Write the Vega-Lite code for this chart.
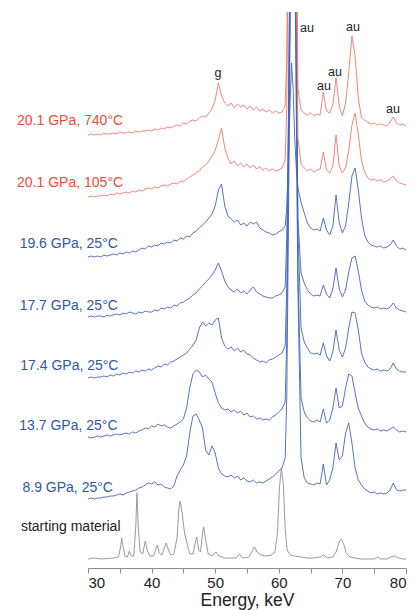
{
"$schema":"https://vega.github.io/schema/vega-lite/v6.json",
"width":318,"height":556,
"autosize":{"type":"none"},
"padding":{"left":88,"top":12,"right":10,"bottom":42},
"config":{"view":{"stroke":null},"font":"Liberation Sans"},
"datasets":{
"spec":[
{"x":30,"a":433,"b":371,"c":311,"d":251,"e":190,"f":131,"g":69},
{"x":30.5,"a":434,"b":372,"c":312,"d":252,"e":191,"f":130,"g":70},
{"x":31,"a":433,"b":371,"c":311,"d":251,"e":190,"f":131,"g":69},
{"x":31.5,"a":434,"b":372,"c":312,"d":252,"e":191,"f":132,"g":70},
{"x":32,"a":433,"b":372,"c":311,"d":252,"e":191,"f":131,"g":70},
{"x":32.5,"a":435,"b":373,"c":313,"d":251,"e":192,"f":132,"g":71},
{"x":33,"a":434,"b":372,"c":312,"d":253,"e":191,"f":133,"g":71},
{"x":33.5,"a":434,"b":374,"c":313,"d":252,"e":193,"f":132,"g":72},
{"x":34,"a":435,"b":373,"c":314,"d":253,"e":192,"f":133,"g":72},
{"x":34.5,"a":434,"b":375,"c":313,"d":254,"e":194,"f":134,"g":73},
{"x":35,"a":436,"b":374,"c":315,"d":253,"e":193,"f":133,"g":74},
{"x":35.5,"a":435,"b":375,"c":314,"d":255,"e":195,"f":134,"g":73},
{"x":36,"a":435,"b":376,"c":316,"d":254,"e":194,"f":135,"g":75},
{"x":36.5,"a":436,"b":375,"c":315,"d":256,"e":196,"f":134,"g":76},
{"x":37,"a":435,"b":377,"c":317,"d":255,"e":195,"f":136,"g":77},
{"x":37.5,"a":437,"b":376,"c":316,"d":254,"e":197,"f":135,"g":78},
{"x":38,"a":436,"b":378,"c":318,"d":256,"e":196,"f":137,"g":80},
{"x":38.5,"a":437,"b":377,"c":320,"d":255,"e":198,"f":138,"g":81},
{"x":39,"a":437,"b":379,"c":319,"d":257,"e":197,"f":140,"g":83},
{"x":39.5,"a":438,"b":380,"c":322,"d":256,"e":199,"f":139,"g":85},
{"x":40,"a":437,"b":379,"c":321,"d":256,"e":198,"f":142,"g":84},
{"x":40.5,"a":439,"b":381,"c":323,"d":258,"e":200,"f":141,"g":86},
{"x":41,"a":438,"b":380,"c":322,"d":257,"e":202,"f":144,"g":83},
{"x":41.5,"a":440,"b":382,"c":325,"d":260,"e":201,"f":142,"g":84},
{"x":42,"a":439,"b":383,"c":324,"d":259,"e":204,"f":143,"g":81},
{"x":42.5,"a":441,"b":382,"c":326,"d":261,"e":203,"f":141,"g":80},
{"x":43,"a":440,"b":384,"c":325,"d":260,"e":206,"f":140,"g":79},
{"x":43.5,"a":442,"b":385,"c":328,"d":263,"e":207,"f":142,"g":82},
{"x":44,"a":443,"b":384,"c":327,"d":262,"e":209,"f":144,"g":92},
{"x":44.5,"a":442,"b":387,"c":330,"d":265,"e":211,"f":146,"g":98},
{"x":45,"a":445,"b":386,"c":329,"d":266,"e":213,"f":149,"g":103},
{"x":45.5,"a":444,"b":389,"c":332,"d":268,"e":215,"f":160,"g":112},
{"x":46,"a":447,"b":391,"c":331,"d":270,"e":219,"f":180,"g":135},
{"x":46.5,"a":448,"b":393,"c":335,"d":273,"e":223,"f":194,"g":152},
{"x":47,"a":447,"b":395,"c":337,"d":275,"e":228,"f":198,"g":154},
{"x":47.5,"a":450,"b":397,"c":340,"d":279,"e":240,"f":196,"g":148},
{"x":48,"a":452,"b":401,"c":343,"d":282,"e":246,"f":191,"g":140},
{"x":48.5,"a":451,"b":403,"c":346,"d":286,"e":242,"f":193,"g":118},
{"x":49,"a":455,"b":407,"c":350,"d":289,"e":245,"f":189,"g":113},
{"x":49.5,"a":459,"b":412,"c":354,"d":293,"e":243,"f":186,"g":122},
{"x":50,"a":468,"b":418,"c":362,"d":298,"e":248,"f":175,"g":115},
{"x":50.5,"a":485,"b":428,"c":378,"d":305,"e":250,"f":165,"g":100},
{"x":51,"a":472,"b":440,"c":384,"d":297,"e":230,"f":160,"g":94},
{"x":51.5,"a":465,"b":420,"c":362,"d":287,"e":222,"f":158,"g":92},
{"x":52,"a":462,"b":410,"c":352,"d":281,"e":219,"f":159,"g":91},
{"x":52.5,"a":465,"b":404,"c":349,"d":278,"e":221,"f":156,"g":93},
{"x":53,"a":460,"b":407,"c":346,"d":276,"e":217,"f":158,"g":90},
{"x":53.5,"a":464,"b":402,"c":348,"d":279,"e":220,"f":155,"g":92},
{"x":54,"a":461,"b":405,"c":343,"d":275,"e":216,"f":157,"g":88},
{"x":54.5,"a":463,"b":401,"c":345,"d":277,"e":218,"f":153,"g":90},
{"x":55,"a":459,"b":404,"c":342,"d":274,"e":214,"f":155,"g":87},
{"x":55.5,"a":462,"b":400,"c":346,"d":278,"e":213,"f":151,"g":86},
{"x":56,"a":458,"b":403,"c":344,"d":281,"e":210,"f":152,"g":88},
{"x":56.5,"a":461,"b":399,"c":346,"d":276,"e":208,"f":149,"g":85},
{"x":57,"a":457,"b":401,"c":340,"d":274,"e":206,"f":150,"g":86},
{"x":57.5,"a":459,"b":398,"c":338,"d":272,"e":207,"f":148,"g":85},
{"x":58,"a":456,"b":400,"c":336,"d":271,"e":205,"f":149,"g":87},
{"x":58.5,"a":458,"b":397,"c":335,"d":270,"e":208,"f":148,"g":89},
{"x":59,"a":455,"b":399,"c":333,"d":270,"e":209,"f":151,"g":91},
{"x":59.5,"a":457,"b":397,"c":334,"d":272,"e":211,"f":153,"g":94},
{"x":60,"a":455,"b":398,"c":336,"d":273,"e":213,"f":156,"g":97},
{"x":60.5,"a":456,"b":400,"c":338,"d":275,"e":215,"f":159,"g":100},
{"x":61,"a":462,"b":408,"c":342,"d":281,"e":222,"f":166,"g":110},
{"x":61.25,"a":510,"b":460,"c":360,"d":330,"e":280,"f":230,"g":170},
{"x":61.5,"a":680,"b":650,"c":400,"d":450,"e":420,"f":380,"g":330},
{"x":61.75,"a":900,"b":900,"c":460,"d":620,"e":600,"f":560,"g":520},
{"x":62,"a":950,"b":950,"c":505,"d":750,"e":760,"f":700,"g":680},
{"x":62.25,"a":950,"b":950,"c":480,"d":780,"e":800,"f":740,"g":720},
{"x":62.5,"a":900,"b":900,"c":430,"d":700,"e":720,"f":660,"g":640},
{"x":62.75,"a":700,"b":650,"c":400,"d":520,"e":540,"f":480,"g":460},
{"x":63,"a":480,"b":430,"c":380,"d":350,"e":340,"f":300,"g":280},
{"x":63.5,"a":458,"b":404,"c":366,"d":295,"e":240,"f":170,"g":110},
{"x":64,"a":455,"b":400,"c":355,"d":285,"e":226,"f":156,"g":90},
{"x":64.5,"a":453,"b":397,"c":345,"d":278,"e":220,"f":150,"g":85},
{"x":65,"a":455,"b":399,"c":340,"d":274,"e":215,"f":147,"g":84},
{"x":65.5,"a":452,"b":396,"c":338,"d":272,"e":214,"f":146,"g":83},
{"x":66,"a":454,"b":398,"c":339,"d":273,"e":215,"f":148,"g":85},
{"x":66.5,"a":453,"b":399,"c":337,"d":272,"e":213,"f":146,"g":84},
{"x":67,"a":476,"b":416,"c":350,"d":283,"e":225,"f":159,"g":104},
{"x":67.5,"a":457,"b":398,"c":338,"d":274,"e":212,"f":145,"g":83},
{"x":68,"a":455,"b":395,"c":333,"d":270,"e":207,"f":148,"g":88},
{"x":68.5,"a":463,"b":402,"c":342,"d":279,"e":216,"f":160,"g":100},
{"x":69,"a":490,"b":433,"c":373,"d":300,"e":238,"f":180,"g":125},
{"x":69.5,"a":462,"b":402,"c":345,"d":279,"e":218,"f":160,"g":108},
{"x":70,"a":452,"b":395,"c":335,"d":271,"e":211,"f":162,"g":112},
{"x":70.5,"a":465,"b":400,"c":342,"d":278,"e":220,"f":180,"g":135},
{"x":71,"a":495,"b":418,"c":365,"d":296,"e":240,"f":194,"g":145},
{"x":71.5,"a":532,"b":443,"c":392,"d":310,"e":256,"f":192,"g":125},
{"x":72,"a":512,"b":455,"c":400,"d":312,"e":255,"f":175,"g":100},
{"x":72.5,"a":470,"b":433,"c":378,"d":297,"e":238,"f":160,"g":88},
{"x":73,"a":450,"b":408,"c":350,"d":278,"e":215,"f":152,"g":83},
{"x":73.5,"a":448,"b":396,"c":333,"d":267,"e":206,"f":145,"g":79},
{"x":74,"a":446,"b":390,"c":326,"d":263,"e":201,"f":141,"g":77},
{"x":74.5,"a":444,"b":388,"c":323,"d":261,"e":199,"f":139,"g":75},
{"x":75,"a":445,"b":389,"c":322,"d":260,"e":198,"f":138,"g":76},
{"x":75.5,"a":443,"b":387,"c":321,"d":261,"e":199,"f":139,"g":74},
{"x":76,"a":444,"b":388,"c":322,"d":259,"e":197,"f":137,"g":75},
{"x":76.5,"a":443,"b":386,"c":320,"d":260,"e":198,"f":138,"g":74},
{"x":77,"a":442,"b":387,"c":321,"d":259,"e":197,"f":137,"g":75},
{"x":77.5,"a":446,"b":389,"c":323,"d":261,"e":199,"f":139,"g":78},
{"x":78,"a":451,"b":392,"c":328,"d":265,"e":205,"f":141,"g":85},
{"x":78.5,"a":445,"b":387,"c":322,"d":260,"e":199,"f":138,"g":78},
{"x":79,"a":443,"b":385,"c":319,"d":258,"e":197,"f":136,"g":77},
{"x":79.5,"a":444,"b":384,"c":320,"d":257,"e":196,"f":137,"g":78},
{"x":80,"a":442,"b":383,"c":318,"d":256,"e":196,"f":136,"g":78}
],
"sm":[
{"x":30,"v":9},{"x":31,"v":10},{"x":32,"v":9},{"x":33,"v":9.5},{"x":34,"v":10},{"x":34.8,"v":11},
{"x":35.1,"v":20},{"x":35.3,"v":30},{"x":35.5,"v":22},{"x":35.8,"v":12},{"x":36.2,"v":11},{"x":36.5,"v":17},
{"x":36.8,"v":12},{"x":37.2,"v":12},{"x":37.5,"v":40},{"x":37.7,"v":75},{"x":37.9,"v":40},{"x":38.2,"v":16},
{"x":38.6,"v":14},{"x":39.0,"v":27},{"x":39.3,"v":18},{"x":39.7,"v":12},{"x":40.3,"v":12},{"x":40.9,"v":23},
{"x":41.2,"v":15},{"x":41.6,"v":13},{"x":42.0,"v":20},{"x":42.3,"v":25},{"x":42.6,"v":19},{"x":43.0,"v":13},
{"x":43.5,"v":14},{"x":44.0,"v":30},{"x":44.3,"v":60},{"x":44.5,"v":67},{"x":44.8,"v":55},{"x":45.2,"v":34},
{"x":45.6,"v":24},{"x":46.0,"v":14},{"x":46.5,"v":14},{"x":46.9,"v":26},{"x":47.1,"v":31},{"x":47.4,"v":18},
{"x":47.7,"v":16},{"x":48.0,"v":35},{"x":48.2,"v":41},{"x":48.5,"v":28},{"x":48.9,"v":14},{"x":49.5,"v":12},
{"x":50.1,"v":16},{"x":50.6,"v":12},{"x":51.5,"v":10},{"x":52.5,"v":10},{"x":53.3,"v":10},{"x":53.8,"v":14},
{"x":54.3,"v":10},{"x":55.3,"v":11},{"x":55.9,"v":18},{"x":56.2,"v":21},{"x":56.6,"v":16},{"x":57.2,"v":13},
{"x":58,"v":12},{"x":58.8,"v":13},{"x":59.4,"v":16},{"x":59.8,"v":35},{"x":60.1,"v":80},{"x":60.4,"v":100},
{"x":60.7,"v":85},{"x":61.0,"v":40},{"x":61.3,"v":18},{"x":61.8,"v":13},{"x":62.5,"v":12},{"x":63.5,"v":11},
{"x":64.5,"v":10},{"x":65.5,"v":10},{"x":66.5,"v":11},{"x":67.1,"v":13},{"x":67.6,"v":10},{"x":68.5,"v":11},
{"x":69.0,"v":16},{"x":69.5,"v":26},{"x":69.8,"v":29},{"x":70.2,"v":24},{"x":70.6,"v":15},{"x":71.2,"v":11},
{"x":72,"v":10},{"x":73,"v":9},{"x":74,"v":9},{"x":75,"v":9},{"x":75.5,"v":11},{"x":76,"v":9},
{"x":77,"v":9},{"x":77.6,"v":11},{"x":78.2,"v":12},{"x":78.8,"v":10},{"x":79.5,"v":9},{"x":80,"v":9}
],
"labels":[
{"t":"20.1 GPa, 740°C","x":18.85,"v":447,"k":"r"},
{"t":"20.1 GPa, 105°C","x":18.85,"v":385,"k":"r"},
{"t":"19.6 GPa, 25°C","x":19.25,"v":324.5,"k":"b"},
{"t":"17.7 GPa, 25°C","x":19.25,"v":262,"k":"b"},
{"t":"17.4 GPa, 25°C","x":19.35,"v":202.5,"k":"b"},
{"t":"13.7 GPa, 25°C","x":19.2,"v":142,"k":"b"},
{"t":"8.9 GPa, 25°C","x":19.7,"v":80.5,"k":"b"},
{"t":"starting material","x":19.45,"v":41,"k":"k"}
],
"notes":[
{"t":"g","x":50.44,"v":495},
{"t":"au","x":64.43,"v":540},
{"t":"au","x":67.1,"v":482},
{"t":"au","x":68.84,"v":496},
{"t":"au","x":71.67,"v":541},
{"t":"au","x":77.96,"v":459}
]
},
"encoding":{
"x":{"field":"x","type":"quantitative","scale":{"domain":[30,80],"nice":false,"zero":false},
"axis":{"values":[30,35,40,45,50,55,60,65,70,75,80],"labelExpr":"datum.value % 10 === 0 ? datum.label : ''","title":"Energy, keV","grid":false,"domainColor":"#8a8a8a","tickColor":"#8a8a8a","tickSize":5,"labelFontSize":15,"labelColor":"#222222","labelPadding":2,"titleFontSize":17.5,"titleFontWeight":"normal","titleColor":"#222222","titlePadding":1,"titleBaseline":"top","labelFont":"Liberation Sans","titleFont":"Liberation Sans"}},
"y":{"field":"v","type":"quantitative","scale":{"domain":[0,556],"nice":false,"zero":false},"axis":null}
},
"layer":[
{"data":{"name":"spec"},
"transform":[{"fold":["g","f","e","d","c","b","a"],"as":["s","v"]}],
"mark":{"type":"line","strokeWidth":0.9,"clip":true},
"encoding":{"color":{"field":"s","type":"nominal","scale":{"domain":["a","b","c","d","e","f","g"],"range":["#f37868","#f37868","#4464bb","#4464bb","#4464bb","#4464bb","#4464bb"]},"legend":null}}},
{"data":{"name":"sm"},
"mark":{"type":"line","strokeWidth":0.9,"color":"#8f8f8f","clip":true}},
{"data":{"name":"labels"},
"mark":{"type":"text","align":"left","baseline":"middle","fontSize":14,"font":"Liberation Sans"},
"encoding":{"text":{"field":"t"},"color":{"field":"k","type":"nominal","scale":{"domain":["r","b","k"],"range":["#ee4b3b","#2d58a8","#222222"]},"legend":null}}},
{"data":{"name":"notes"},
"mark":{"type":"text","align":"center","baseline":"middle","fontSize":12.5,"font":"Liberation Sans","color":"#222222"},
"encoding":{"text":{"field":"t"}}}
],
"resolve":{"scale":{"color":"independent"}}
}
